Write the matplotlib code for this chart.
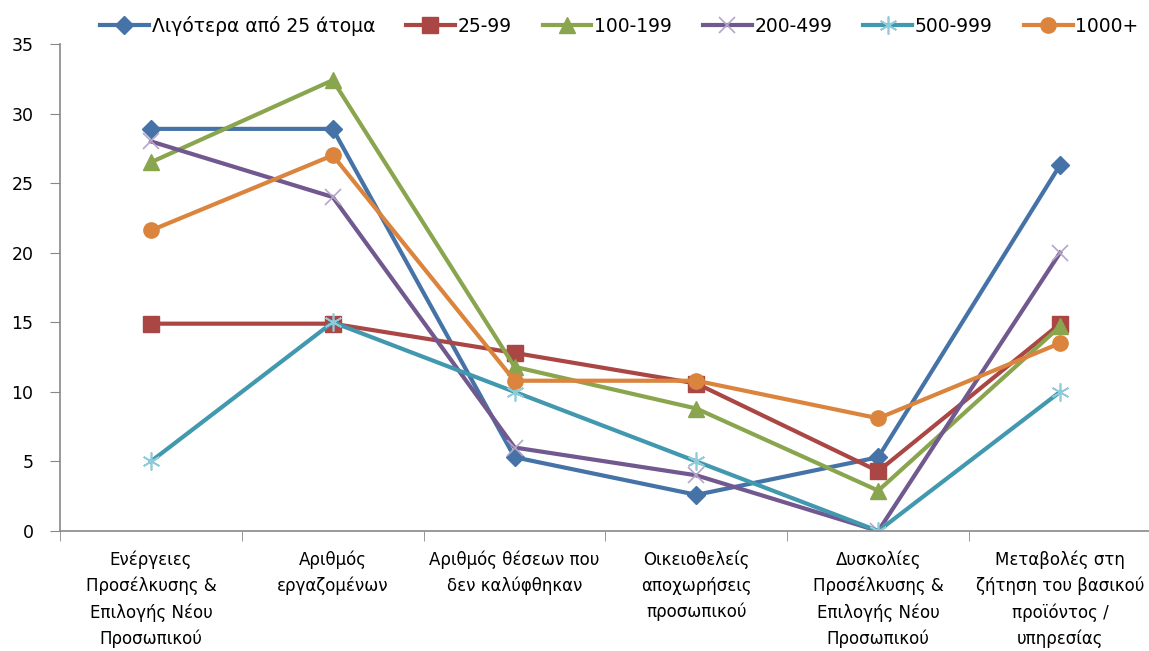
import matplotlib
matplotlib.use('Agg')
import matplotlib.pyplot as plt
from matplotlib import font_manager

categories = [
    'Ενέργειες\nΠροσέλκυσης &\nΕπιλογής Νέου\nΠροσωπικού',
    'Αριθμός\nεργαζομένων',
    'Αριθμός θέσεων που\nδεν καλύφθηκαν',
    'Οικειοθελείς\nαποχωρήσεις\nπροσωπικού',
    'Δυσκολίες\nΠροσέλκυσης &\nΕπιλογής Νέου\nΠροσωπικού',
    'Μεταβολές στη\nζήτηση του βασικού\nπροϊόντος /\nυπηρεσίας',
]

series_names = ['Λιγότερα από 25 άτομα', '25-99', '100-199', '200-499', '500-999', '1000+']

less25 = [28.9, 28.9, 5.3, 2.6, 5.3, 26.3]
s25_99 = [14.9, 14.9, 12.8, 10.6, 4.3, 14.9]
s100_199 = [26.5, 32.4, 11.8, 8.8, 2.9, 14.7]
s200_499 = [28.0, 24.0, 6.0, 4.0, 0.0, 20.0]
s500_999 = [5.0, 15.0, 10.0, 5.0, 0.0, 10.0]
s1000 = [21.6, 27.0, 10.8, 10.8, 8.1, 13.5]

names = {f.name for f in font_manager.fontManager.ttflist}
narrow = 'Liberation Sans Narrow' if 'Liberation Sans Narrow' in names else 'DejaVu Sans Condensed'
plt.rcParams['font.family'] = ['DejaVu Sans']

fig = plt.figure(figsize=(11.49, 6.51), dpi=100)
ax = fig.add_axes([60 / 1149, 120 / 651, 1091 / 1149, 487 / 651])

x = list(range(len(categories)))
styles = [
    (less25, '#4572A7', dict(marker='D', ms=9, mec='#4572A7')),
    (s25_99, '#AA4643', dict(marker='s', ms=11, mec='#AA4643')),
    (s100_199, '#89A54E', dict(marker='^', ms=11, mec='#89A54E')),
    (s200_499, '#71588F', dict(marker='x', ms=11, mec='#B5A5CB', mew=1.2)),
    (s500_999, '#4198AF', dict(marker=(6, 2, 0), ms=13, mec='#8FCAD9', mew=1.2)),
    (s1000, '#DB843D', dict(marker='o', ms=11, mec='#DB843D')),
]
for (vals, col, mk), name in zip(styles, series_names):
    ax.plot(x, vals, color=col, lw=3, mfc=col, label=name, **mk)

ax.set_xlim(-0.5, 5.5)
ax.set_ylim(0, 35)
ax.set_yticks(range(0, 36, 5))
ax.tick_params(axis='y', direction='out', length=7, color='#888888', labelsize=12.5, pad=12)

ax.set_xticks(x)
ax.set_xticklabels(categories, fontsize=12, family=narrow, linespacing=1.55)
ax.tick_params(axis='x', which='major', length=0, pad=14)
ax.set_xticks([i - 0.5 for i in range(len(categories) + 1)], minor=True)
ax.tick_params(axis='x', which='minor', direction='out', length=7, color='#888888')

for s in ['top', 'right']:
    ax.spines[s].set_visible(False)
for s in ['left', 'bottom']:
    ax.spines[s].set_color('#888888')
    ax.spines[s].set_linewidth(1.2)

fig.legend(loc='center', bbox_to_anchor=(0.539, 0.96), ncol=6, frameon=False,
           handlelength=2.6, columnspacing=1.65, handletextpad=0.15,
           prop={'family': narrow, 'size': 13.5})

fig.savefig('out.png', dpi=100)
